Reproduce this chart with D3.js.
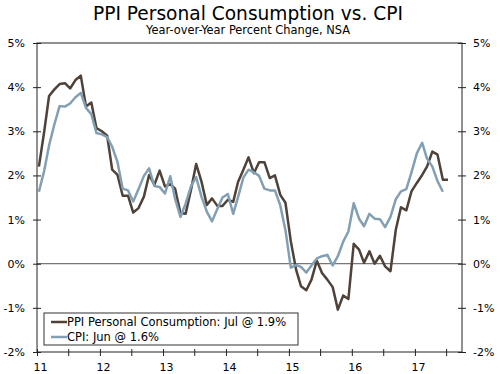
<!DOCTYPE html>
<html>
<head>
<meta charset="utf-8">
<script src="https://cdn.jsdelivr.net/npm/d3@7"></script>
<style>
  body { margin: 0; background: #fff; }
  text { font-family: "DejaVu Sans", Verdana, sans-serif; fill: #000; }
</style>
</head>
<body>
<svg id="chart" width="500" height="374"></svg>
<script>
// monthly data, Jan 2011 onwards (year-over-year % change)
const ppi = [
  2.2, 3.0, 3.8, 3.95, 4.07, 4.09, 3.97, 4.16, 4.26, 3.56, 3.65, 3.07,
  3.0, 2.9, 2.13, 2.01, 1.54, 1.54, 1.16, 1.26, 1.52, 2.01, 1.79, 2.11,
  1.75, 1.8, 1.7, 1.15, 1.13, 1.67, 2.26, 1.86, 1.33, 1.48, 1.31, 1.31,
  1.45, 1.4, 1.85, 2.13, 2.41, 2.05, 2.3, 2.3, 1.94, 2.0, 1.56, 1.38,
  0.51, -0.14, -0.51, -0.6, -0.36, 0.07, -0.21, -0.36, -0.53, -1.04, -0.72, -0.8,
  0.45, 0.32, 0.02, 0.28, 0.0, 0.18, -0.06, -0.17, 0.77, 1.28, 1.21, 1.64,
  1.83, 2.01, 2.2, 2.54, 2.47, 1.9, 1.9
];
const cpi = [
  1.63, 2.11, 2.68, 3.16, 3.57, 3.56, 3.63, 3.77, 3.87, 3.53, 3.39, 2.96,
  2.93, 2.87, 2.65, 2.30, 1.70, 1.66, 1.41, 1.69, 1.99, 2.16, 1.76, 1.74,
  1.59, 1.98, 1.47, 1.06, 1.36, 1.75, 1.96, 1.52, 1.18, 0.96, 1.24, 1.50,
  1.58, 1.13, 1.51, 1.95, 2.13, 2.07, 1.99, 1.70, 1.66, 1.66, 1.32, 0.76,
  -0.09, -0.03, -0.07, -0.20, -0.04, 0.12, 0.17, 0.20, -0.04, 0.17, 0.50, 0.73,
  1.37, 1.02, 0.85, 1.13, 1.02, 1.01, 0.83, 1.06, 1.46, 1.64, 1.69, 2.07,
  2.50, 2.74, 2.38, 2.20, 1.87, 1.63
];
const yTicks = [-2, -1, 0, 1, 2, 3, 4, 5];
const yearLabels = ['11', '12', '13', '14', '15', '16', '17'];
const seriesNames = ['PPI Personal Consumption: Jul @ 1.9%', 'CPI: Jun @ 1.6%'];
const seriesColors = ['#4e4239', '#829fb3'];

const svg = d3.select('#chart');
const margin = { top: 43, right: 38, bottom: 22, left: 37 };
const width = +svg.attr('width');
const height = +svg.attr('height');
const innerWidth = width - margin.left - margin.right;
const innerHeight = height - margin.top - margin.bottom;

const start = new Date(2011, 0, 1);
const monthDate = i => d3.timeDay.offset(d3.timeMonth.offset(start, i), 11);

const xScale = d3.scaleTime()
    .domain([start, new Date(2017, 9, 1)])
    .range([0, innerWidth]);

const yScale = d3.scaleLinear()
    .domain([-2, 5])
    .range([innerHeight, 0]);

const g = svg.append('g')
    .attr('transform', 'translate(' + margin.left + ',' + margin.top + ')');

// titles
svg.append('text')
    .attr('x', 248).attr('y', 20)
    .attr('text-anchor', 'middle')
    .style('font-size', '18.6px')
    .text('PPI Personal Consumption vs. CPI');

svg.append('text')
    .attr('x', 248).attr('y', 34)
    .attr('text-anchor', 'middle')
    .style('font-size', '11.4px')
    .text('Year-over-Year Percent Change, NSA');

// zero line
g.append('line')
    .attr('x1', 0).attr('x2', innerWidth)
    .attr('y1', yScale(0)).attr('y2', yScale(0))
    .style('stroke', '#555')
    .style('stroke-width', 1);

// series lines
const line = d3.line()
    .x((d, i) => xScale(monthDate(i)))
    .y(d => yScale(d));

[ppi, cpi].forEach((series, k) => {
  g.append('path')
      .datum(series)
      .attr('d', line)
      .style('fill', 'none')
      .style('stroke', seriesColors[k])
      .style('stroke-width', 2.5)
      .style('stroke-linejoin', 'round');
});

// frame
g.append('rect')
    .attr('width', innerWidth).attr('height', innerHeight)
    .style('fill', 'none')
    .style('stroke', '#222')
    .style('stroke-width', 1);

const pct = d => d + '%';

// left axis
const left = g.append('g')
    .call(d3.axisLeft(yScale).tickValues(yTicks).tickFormat(pct)
      .tickSize(4).tickSizeOuter(0).tickPadding(8));
left.selectAll('.tick line').attr('x1', 4);

// right axis
const right = g.append('g')
    .attr('transform', 'translate(' + innerWidth + ',0)')
    .call(d3.axisRight(yScale).tickValues(yTicks).tickFormat(pct)
      .tickSize(4).tickSizeOuter(0).tickPadding(7));
right.selectAll('.tick line').attr('x1', -4);

// bottom axis: year ticks and mid-year ticks
const xTicks = [];
yearLabels.forEach((lab, i) => {
  xTicks.push(new Date(2011 + i, 0, 1));
  xTicks.push(new Date(2011 + i, 6, 1));
});
const bottom = g.append('g')
    .attr('transform', 'translate(0,' + innerHeight + ')')
    .call(d3.axisBottom(xScale).tickValues(xTicks)
      .tickFormat(d => d.getMonth() === 0 ? yearLabels[d.getFullYear() - 2011] : '')
      .tickSize(4).tickSizeOuter(0).tickPadding(7));
bottom.selectAll('.tick line').attr('y1', -3);
bottom.selectAll('.tick text').attr('dx', 3)
    .filter(function() { return this.textContent === ''; }).remove();

[left, right, bottom].forEach(a => {
  a.select('.domain').remove();
  a.selectAll('.tick line').style('stroke', '#222');
  a.selectAll('text').style('font-size', '11px').style('fill', '#000')
      .style('font-family', '"DejaVu Sans", Verdana, sans-serif');
});

// legend
const legend = svg.append('g');
legend.append('rect')
    .attr('x', 44).attr('y', 313).attr('width', 254).attr('height', 32)
    .style('fill', '#fff')
    .style('stroke', '#333')
    .style('stroke-width', 1);

seriesNames.forEach((name, k) => {
  const ly = 322 + k * 15;
  legend.append('line')
      .attr('x1', 51).attr('x2', 67)
      .attr('y1', ly).attr('y2', ly)
      .style('stroke', seriesColors[k])
      .style('stroke-width', 2.5);
  legend.append('text')
      .attr('x', 67).attr('y', ly + 4)
      .style('font-size', '11.5px')
      .text(name);
});
</script>
</body>
</html>
